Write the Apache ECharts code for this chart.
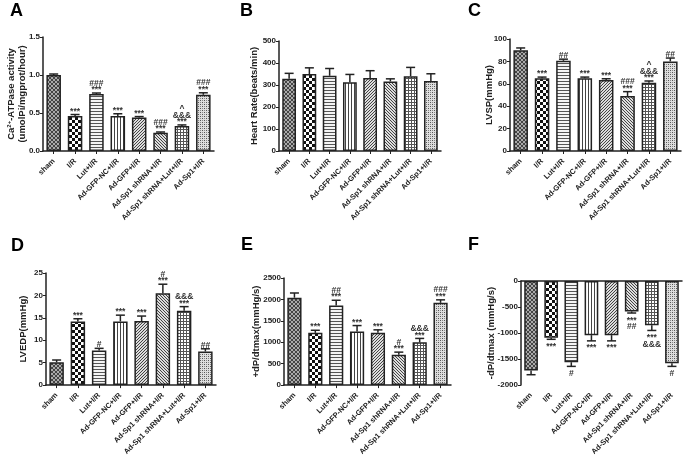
<!DOCTYPE html>
<html><head><meta charset="utf-8">
<script src="https://cdn.jsdelivr.net/npm/echarts@6/dist/echarts.min.js"></script>
<style>html,body{margin:0;padding:0;background:#fff}#c{width:685px;height:458px}</style>
</head><body><div id="c"></div>
<script>
// ---------- DATA ----------
const categories = ['sham','I/R','Lut+I/R','Ad-GFP-NC+I/R','Ad-GFP+I/R','Ad-Sp1 shRNA+I/R','Ad-Sp1 shRNA+Lut+I/R','Ad-Sp1+I/R'];

const caAtpase    = [1.00, 0.46, 0.75, 0.46, 0.44, 0.24, 0.33, 0.74];
const caAtpaseErr = [0.013, 0.02, 0.013, 0.03, 0.013, 0.01, 0.013, 0.026];
const caAtpaseSig = ['', '***', '###\n***', '***', '***', '###\n***', '^\n&&&\n***', '###\n***'];

const heartRate    = [328, 350, 342, 313, 332, 316, 340, 318];
const heartRateErr = [25, 28, 33, 35, 33, 12, 40, 33];
const heartRateSig = ['', '', '', '', '', '', '', ''];

const lvsp    = [90, 65, 80.5, 65, 63.5, 49, 61, 80];
const lvspErr = [2, 1, 1.5, 1, 1, 4, 1.5, 3];
const lvspSig = ['', '***', '##', '***', '***', '###\n***', '^\n&&&\n***', '##'];

const lvedp    = [5.1, 14.2, 7.7, 14.2, 14.3, 20.5, 16.6, 7.5];
const lvedpErr = [0.5, 0.6, 0.5, 1.4, 1.1, 2.0, 0.9, 0.6];
const lvedpSig = ['', '***', '#', '***', '***', '#\n***', '&&&\n***', '##'];

const dpPlus    = [2040, 1220, 1860, 1250, 1220, 710, 1000, 1920];
const dpPlusErr = [110, 60, 120, 140, 70, 60, 90, 70];
const dpPlusSig = ['', '***', '##\n***', '***', '***', '#\n***', '&&&\n***', '###\n***'];

const dpMinus    = [-1720, -1090, -1560, -1040, -1040, -585, -850, -1580];
const dpMinusErr = [80, 30, 80, 110, 110, 30, 100, 60];
const dpMinusSig = ['', '***', '#', '***', '***', '***\n##', '***\n&&&', '#'];

const panelLetters = ['A', 'B', 'C', 'D', 'E', 'F'];
const axisNames = [
  '{n|Ca}{s|2+}{n|-ATPase activity}\n{n|(umolPi/mgprot/hour)}',
  'Heart Rate(beats/min)',
  'LVSP(mmHg)',
  'LVEDP(mmHg)',
  '+dP/dtmax(mmHg/s)',
  '-dP/dtmax (mmHg/s)'
];
const axisRanges = [
  {min: 0, max: 1.5, interval: 0.5, dec: 1},
  {min: 0, max: 500, interval: 100, dec: 0},
  {min: 0, max: 100, interval: 20, dec: 0},
  {min: 0, max: 25, interval: 5, dec: 0},
  {min: 0, max: 2500, interval: 500, dec: 0},
  {min: -2000, max: 0, interval: 500, dec: 0}
];

// ---------- LAYOUT / STYLE ----------
const FONT = 'Arial, "Liberation Sans", sans-serif';
const grids = [
  {left: 43, top: 37, width: 171, height: 114},
  {left: 279, top: 41, width: 162, height: 110},
  {left: 510, top: 39, width: 171, height: 112},
  {left: 46, top: 273, width: 170, height: 114},
  {left: 284, top: 278, width: 167, height: 108},
  {left: 521, top: 281, width: 161, height: 106}
];
const letterPos = [[10, 2], [240, 2], [468, 2], [11, 237], [241, 236], [468, 236]];
const nameGaps = [15, 19, 15, 17, 22, 24];

function tile(size, draw) {
  const c = document.createElement('canvas');
  c.width = size; c.height = size;
  const g = c.getContext('2d');
  draw(g, size);
  return {image: c, repeat: 'repeat'};
}
function px(g, x, y, col) { g.fillStyle = col; g.fillRect(x, y, 1, 1); }
const patterns = [
  // sham: dense dark crosshatch
  tile(4, (g, n) => { g.fillStyle = '#aaaaaa'; g.fillRect(0,0,n,n);
    for (let i=0;i<n;i++){ px(g,i,i,'#444'); px(g,i,n-1-i,'#444'); } }),
  // I/R: checkerboard
  tile(6, (g, n) => { g.fillStyle = '#fff'; g.fillRect(0,0,n,n); g.fillStyle = '#111';
    g.fillRect(0,0,3,3); g.fillRect(3,3,3,3); }),
  // Lut: horizontal lines
  tile(3, (g, n) => { g.fillStyle = '#f4f4f4'; g.fillRect(0,0,n,n); g.fillStyle = '#555'; g.fillRect(0,0,n,1); }),
  // NC: vertical lines
  tile(3, (g, n) => { g.fillStyle = '#fff'; g.fillRect(0,0,n,n); g.fillStyle = '#444'; g.fillRect(0,0,1,n); }),
  // GFP: / diagonal
  tile(3, (g, n) => { g.fillStyle = '#ddd'; g.fillRect(0,0,n,n); for (let i=0;i<n;i++) px(g,i,n-1-i,'#444'); }),
  // shRNA: \ diagonal
  tile(3, (g, n) => { g.fillStyle = '#ddd'; g.fillRect(0,0,n,n); for (let i=0;i<n;i++) px(g,i,i,'#444'); }),
  // shRNA+Lut: grid
  tile(3, (g, n) => { g.fillStyle = '#fff'; g.fillRect(0,0,n,n); g.fillStyle = '#555'; g.fillRect(0,0,n,1); g.fillRect(0,0,1,n); }),
  // Sp1: fine dots
  tile(4, (g, n) => { g.fillStyle = '#dedede'; g.fillRect(0,0,n,n);
    px(g,0,0,'#555'); px(g,2,2,'#555'); px(g,2,0,'#888'); px(g,0,2,'#888'); })
];

const panelData = [
  [caAtpase, caAtpaseErr, caAtpaseSig],
  [heartRate, heartRateErr, heartRateSig],
  [lvsp, lvspErr, lvspSig],
  [lvedp, lvedpErr, lvedpSig],
  [dpPlus, dpPlusErr, dpPlusSig],
  [dpMinus, dpMinusErr, dpMinusSig]
];

function errRender(sig, dir) {
  return function (params, api) {
    const i = api.value(0), m = api.value(1), e = api.value(2);
    const p0 = api.coord([i, m]);
    const p1 = api.coord([i, m + dir * e]);
    const hw = 4.5;
    const ch = [
      {type: 'line', shape: {x1: p0[0], y1: p0[1], x2: p1[0], y2: p1[1]}, style: {stroke: '#222', lineWidth: 1.5}},
      {type: 'line', shape: {x1: p1[0] - hw, y1: p1[1], x2: p1[0] + hw, y2: p1[1]}, style: {stroke: '#222', lineWidth: 1.5}}
    ];
    const s = sig[params.dataIndex];
    if (s) {
      ch.push({type: 'text', style: {
        text: s, x: p1[0], y: p1[1] + (dir > 0 ? 0 : 4),
        align: 'center', verticalAlign: dir > 0 ? 'bottom' : 'top',
        fontFamily: FONT, fontWeight: 'bold', fontSize: 8.5, lineHeight: 6.5, fill: '#333'
      }});
    }
    return {type: 'group', children: ch};
  };
}

const option = {
  animation: false,
  backgroundColor: '#fff',
  title: panelLetters.map((t, k) => ({
    text: t, left: letterPos[k][0], top: letterPos[k][1], padding: 0,
    textStyle: {fontFamily: FONT, fontSize: 18, fontWeight: 'bold', color: '#000'}
  })),
  grid: grids.map(g => Object.assign({containLabel: false}, g)),
  xAxis: [],
  yAxis: [],
  series: []
};

grids.forEach((g, k) => {
  const neg = k === 5;
  option.xAxis.push({
    type: 'category', gridIndex: k, data: categories, position: 'bottom',
    axisLine: {show: !neg, onZero: false, lineStyle: {color: '#222', width: 1.5}},
    axisTick: {show: !neg, alignWithLabel: true, length: 3, lineStyle: {color: '#222', width: 1}},
    axisLabel: {rotate: 45, interval: 0, margin: 9, fontFamily: FONT, fontWeight: 'bold', fontSize: 7.5, color: '#222'},
    splitLine: {show: false}
  });
  const r = axisRanges[k];
  option.yAxis.push({
    type: 'value', gridIndex: k, min: r.min, max: r.max, interval: r.interval,
    name: axisNames[k], nameLocation: 'middle', nameRotate: 90, nameGap: nameGaps[k],
    nameMoveOverlap: false,
    nameTextStyle: {fontFamily: FONT, fontWeight: 'bold', fontSize: 9.5, color: '#222', lineHeight: 11,
      rich: {n: {fontFamily: FONT, fontWeight: 'bold', fontSize: 9.5, color: '#222', lineHeight: 11},
             s: {fontFamily: FONT, fontWeight: 'bold', fontSize: 6, color: '#222', verticalAlign: 'top', lineHeight: 11}}},
    axisLine: {show: true, lineStyle: {color: '#222', width: 1.5}},
    axisTick: {show: true, length: 3, lineStyle: {color: '#222', width: 1}},
    axisLabel: {margin: 3, fontFamily: FONT, fontWeight: 'bold', fontSize: 8, color: '#222',
      formatter: v => v.toFixed(r.dec)},
    splitLine: {show: false}
  });
});
// top axis line for panel F
option.xAxis.push({
  type: 'category', gridIndex: 5, data: categories, position: 'top',
  axisLine: {show: true, onZero: false, lineStyle: {color: '#222', width: 1.5}},
  axisTick: {show: false}, axisLabel: {show: false}, splitLine: {show: false}
});

panelData.forEach((d, k) => {
  const [vals, errs, sig] = d;
  option.series.push({
    type: 'bar', xAxisIndex: k, yAxisIndex: k, barWidth: '68%',
    data: vals.map((v, i) => ({value: v, itemStyle: {color: patterns[i]}})),
    itemStyle: {borderColor: '#222', borderWidth: 1.5},
    z: 2
  });
  const dir = k === 5 ? -1 : 1;
  option.series.push({
    type: 'custom', xAxisIndex: k, yAxisIndex: k,
    data: vals.map((v, i) => [i, v, errs[i]]),
    encode: {x: 0, y: 1},
    renderItem: errRender(sig, dir),
    z: 3
  });
});

const chart = echarts.init(document.getElementById('c'), null, {renderer: 'canvas'});
chart.setOption(option);
</script></body></html>
